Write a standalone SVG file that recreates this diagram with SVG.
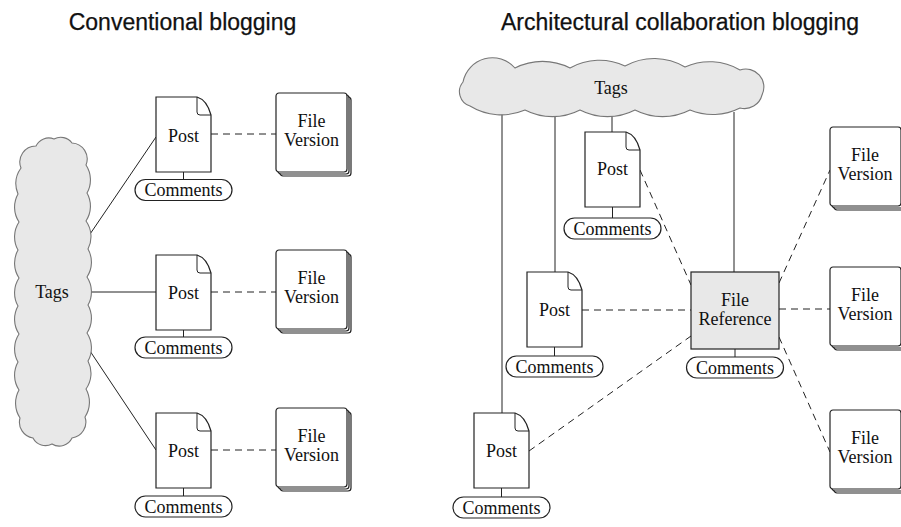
<svg xmlns="http://www.w3.org/2000/svg" xmlns:xlink="http://www.w3.org/1999/xlink" width="901" height="527" viewBox="0 0 901 527">
<style>
  .title { font-family: "Liberation Sans", Arial, sans-serif; font-size: 23px; fill: #111; text-anchor: middle; stroke: #111; stroke-width: 0.25; }
  .lbl { font-family: "Liberation Serif", "Times New Roman", serif; font-size: 18px; fill: #111; text-anchor: middle; }
  .shape { fill: #fff; stroke: #222; stroke-width: 1.2; }
  .cloud { fill: #e8e8e8; stroke: #777; stroke-width: 1.1; }
  .ref { fill: #e8e8e8; stroke: #222; stroke-width: 1.2; }
  .solid { fill: none; stroke: #222; stroke-width: 1; }
  .dash { fill: none; stroke: #222; stroke-width: 1; stroke-dasharray: 7 5; }
</style>
<defs>
  <g id="post-shape">
    <path class="shape" d="M0,0 H41 Q51,3 55,18 V75 H0 Z"/>
    <path class="solid" d="M41,0 V15 Q41,18 44,18 H55" stroke-width="1.1"/>
  </g>
  <g id="fv-shape">
    <rect class="shape" x="4" y="4" width="71" height="79" rx="3" stroke-width="1"/>
    <rect class="shape" x="2" y="2" width="71" height="79" rx="3" stroke-width="1"/>
    <rect class="shape" x="0" y="0" width="71" height="79" rx="3"/>
  </g>
  <rect id="pill-shape" class="shape" x="0" y="0" width="97" height="21" rx="10.5"/>
</defs>

<text class="title" x="182.5" y="30">Conventional blogging</text>
<text class="title" x="680" y="30">Architectural collaboration blogging</text>

<g id="connectors">
  <!-- left -->
  <line class="solid" x1="86" y1="240" x2="156" y2="137"/>
  <line class="solid" x1="90" y1="292" x2="156" y2="292"/>
  <line class="solid" x1="86" y1="345" x2="156" y2="450"/>
  <line class="dash" x1="211" y1="134" x2="276" y2="134"/>
  <line class="dash" x1="211" y1="292" x2="276" y2="292"/>
  <line class="dash" x1="211" y1="450" x2="276" y2="450"/>
  <line class="solid" x1="183.5" y1="172" x2="183.5" y2="179.5"/>
  <line class="solid" x1="183.5" y1="330" x2="183.5" y2="337"/>
  <line class="solid" x1="183.5" y1="488" x2="183.5" y2="496"/>
  <!-- right -->
  <line class="solid" x1="502" y1="112" x2="502" y2="413"/>
  <line class="solid" x1="555" y1="112" x2="555" y2="272"/>
  <line class="solid" x1="612" y1="112" x2="612" y2="132"/>
  <line class="solid" x1="734" y1="112" x2="734" y2="272"/>
  <line class="solid" x1="612.5" y1="207" x2="612.5" y2="218"/>
  <line class="solid" x1="554.5" y1="347" x2="554.5" y2="356"/>
  <line class="solid" x1="735" y1="349" x2="735" y2="357"/>
  <line class="solid" x1="501.5" y1="488" x2="501.5" y2="497"/>
  <line class="dash" x1="640" y1="170" x2="691" y2="285"/>
  <line class="dash" x1="582" y1="310" x2="691" y2="310"/>
  <line class="dash" x1="529" y1="451" x2="691" y2="336"/>
  <line class="dash" x1="779" y1="283" x2="830" y2="170"/>
  <line class="dash" x1="779" y1="309" x2="830" y2="309"/>
  <line class="dash" x1="779" y1="337" x2="830" y2="452"/>
</g>

<g id="tags-left">
  <path class="cloud" d="M21,168 A16,16 0 0 1 36,146 A14,14 0 0 1 54,139 A14,14 0 0 1 72,143 A16,16 0 0 1 86,165 A27,27 0 0 1 87,193 A27,27 0 0 1 86,221 A27,27 0 0 1 88,249 A27,27 0 0 1 87,277 A27,27 0 0 1 88,305 A27,27 0 0 1 87,333 A27,27 0 0 1 88,361 A27,27 0 0 1 86,389 A27,27 0 0 1 85,417 A16,16 0 0 1 72,438 A14,14 0 0 1 52,444 A14,14 0 0 1 33,438 A16,16 0 0 1 20,418 A27,27 0 0 1 19,390 A27,27 0 0 1 18,362 A27,27 0 0 1 19,334 A27,27 0 0 1 18,306 A27,27 0 0 1 19,278 A27,27 0 0 1 18,250 A27,27 0 0 1 19,222 A27,27 0 0 1 18,194 A27,27 0 0 1 21,168 Z"/>
  <text class="lbl" x="52" y="298">Tags</text>
</g>

<g id="post-l1"><use xlink:href="#post-shape" x="156" y="97"/><text class="lbl" x="183.5" y="142">Post</text></g>
<g id="post-l2"><use xlink:href="#post-shape" x="156" y="255"/><text class="lbl" x="183.5" y="299">Post</text></g>
<g id="post-l3"><use xlink:href="#post-shape" x="156" y="413"/><text class="lbl" x="183.5" y="457">Post</text></g>

<g id="comments-l1"><use xlink:href="#pill-shape" x="135" y="179.5"/><text class="lbl" x="183.5" y="196">Comments</text></g>
<g id="comments-l2"><use xlink:href="#pill-shape" x="135" y="337"/><text class="lbl" x="183.5" y="353.5">Comments</text></g>
<g id="comments-l3"><use xlink:href="#pill-shape" x="135" y="496"/><text class="lbl" x="183.5" y="512.5">Comments</text></g>

<g id="fv-l1"><use xlink:href="#fv-shape" x="276" y="93"/><text class="lbl" x="311.5" y="127">File</text><text class="lbl" x="311.5" y="146">Version</text></g>
<g id="fv-l2"><use xlink:href="#fv-shape" x="276" y="250"/><text class="lbl" x="311.5" y="284">File</text><text class="lbl" x="311.5" y="303">Version</text></g>
<g id="fv-l3"><use xlink:href="#fv-shape" x="276" y="408"/><text class="lbl" x="311.5" y="442">File</text><text class="lbl" x="311.5" y="461">Version</text></g>

<g id="tags-right">
  <path class="cloud" d="M463,82 A30,30 0 0 1 515,68 A60,60 0 0 1 570,68 A60,60 0 0 1 625,66 A60,60 0 0 1 685,67 A60,60 0 0 1 740,70 A18,18 0 0 1 762,95 A18,18 0 0 1 740,108 A60,60 0 0 1 690,110 A60,60 0 0 1 635,110 A60,60 0 0 1 580,110 A60,60 0 0 1 525,110 A60,60 0 0 1 470,106 A15,15 0 0 1 463,82 Z"/>
  <text class="lbl" x="611" y="94">Tags</text>
</g>

<g id="post-r1"><use xlink:href="#post-shape" x="585" y="132"/><text class="lbl" x="612.5" y="175">Post</text></g>
<g id="post-r2"><use xlink:href="#post-shape" x="527" y="272"/><text class="lbl" x="554.5" y="316">Post</text></g>
<g id="post-r3"><use xlink:href="#post-shape" x="474" y="413"/><text class="lbl" x="501.5" y="457">Post</text></g>

<g id="comments-r1"><use xlink:href="#pill-shape" x="564" y="218"/><text class="lbl" x="612.5" y="234.5">Comments</text></g>
<g id="comments-r2"><use xlink:href="#pill-shape" x="506" y="356"/><text class="lbl" x="554.5" y="372.5">Comments</text></g>
<g id="comments-r3"><use xlink:href="#pill-shape" x="453" y="497"/><text class="lbl" x="501.5" y="513.5">Comments</text></g>

<g id="file-reference">
  <rect class="ref" x="691" y="272" width="88" height="77"/>
  <text class="lbl" x="735" y="306">File</text>
  <text class="lbl" x="735" y="325">Reference</text>
</g>
<g id="comments-ref"><use xlink:href="#pill-shape" x="686.5" y="357"/><text class="lbl" x="735" y="373.5">Comments</text></g>

<g id="fv-r1"><use xlink:href="#fv-shape" x="830" y="127"/><text class="lbl" x="865" y="161">File</text><text class="lbl" x="865" y="180">Version</text></g>
<g id="fv-r2"><use xlink:href="#fv-shape" x="830" y="267"/><text class="lbl" x="865" y="301">File</text><text class="lbl" x="865" y="320">Version</text></g>
<g id="fv-r3"><use xlink:href="#fv-shape" x="830" y="410"/><text class="lbl" x="865" y="444">File</text><text class="lbl" x="865" y="463">Version</text></g>
</svg>
